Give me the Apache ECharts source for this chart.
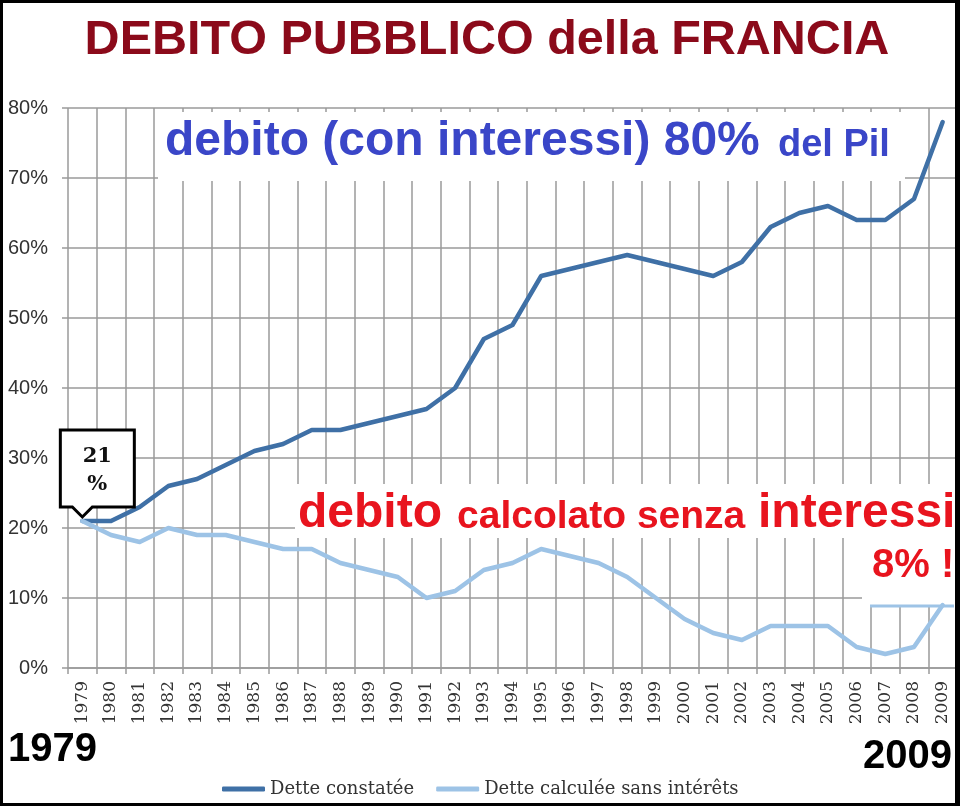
<!DOCTYPE html>
<html>
<head>
<meta charset="utf-8">
<style>
html,body{margin:0;padding:0;background:#fff;}
#c{width:960px;height:806px;}
</style>
<script src="https://cdn.jsdelivr.net/npm/echarts@6/dist/echarts.min.js"></script>
</head>
<body>
<div id="c"></div>
<script>
const years = ['1979','1980','1981','1982','1983','1984','1985','1986','1987','1988','1989','1990','1991','1992','1993','1994','1995','1996','1997','1998','1999','2000','2001','2002','2003','2004','2005','2006','2007','2008','2009'];
const detteConstatee = [21,21,23,26,27,29,31,32,34,34,35,36,37,40,47,49,56,57,58,59,58,57,56,58,63,65,66,64,64,67,78];
const detteSansInterets = [21,19,18,20,19,19,18,17,17,15,14,13,10,11,14,15,17,16,15,13,10,7,5,4,6,6,6,3,2,3,9];
const yTicks = [0,10,20,30,40,50,60,70,80];
const seriesNames = ['Dette constatée','Dette calculée sans intérêts'];

const chart = echarts.init(document.getElementById('c'), null, {renderer:'canvas'});
const grey = '#9a9a9a';
const SANS = 'Liberation Sans, Arial, sans-serif';
const SERIF = 'DejaVu Serif, serif';

function txt(text, x, y, size, color, opts){
  return Object.assign({
    type:'text', z:5,
    style:Object.assign({text:text, x:x, y:y, font:'bold '+size+'px '+SANS, fill:color, align:'left', verticalAlign:'middle'}, (opts||{}).style||{})
  }, (opts||{}).el||{});
}

const option = {
  animation:false,
  backgroundColor:'#fff',
  grid:{left:68, right:3, top:108, height:560, containLabel:false},
  xAxis:{
    type:'category', data:years, boundaryGap:true,
    axisLine:{show:true, lineStyle:{color:grey, width:1.5}},
    axisTick:{show:true, interval:0, length:6, lineStyle:{color:grey, width:1.5}},
    splitLine:{show:true, interval:0, lineStyle:{color:grey, width:1.5}},
    axisLabel:{interval:0, rotate:90, margin:13, fontFamily:SERIF, fontSize:17, color:'#333'}
  },
  yAxis:{
    type:'value', min:0, max:80, interval:10,
    axisLine:{show:false},
    axisTick:{show:true, length:6, lineStyle:{color:grey, width:1.5}},
    splitLine:{show:true, lineStyle:{color:grey, width:1.5}},
    axisLabel:{margin:20, fontFamily:SANS, fontSize:20, color:'#333',
      formatter:function(v){ return yTicks.indexOf(v)>=0 ? v+'%' : ''; }}
  },
  legend:{
    data:seriesNames, left:217, top:775, itemWidth:43, itemHeight:5, itemGap:22,
    icon:'roundRect',
    textStyle:{fontFamily:SERIF, fontSize:18, color:'#333'}
  },
  series:[
    {name:seriesNames[0], type:'line', data:detteConstatee, symbol:'none', smooth:false,
     lineStyle:{color:'#3f70a6', width:4.5, join:'round', cap:'round'}, itemStyle:{color:'#3f70a6'}, z:3},
    {name:seriesNames[1], type:'line', data:detteSansInterets, symbol:'none', smooth:false,
     lineStyle:{color:'#9dc3e6', width:4.5, join:'round', cap:'round'}, itemStyle:{color:'#9dc3e6'}, z:3}
  ]
};
chart.setOption(option);

// annotations
const p = chart.convertToPixel({xAxisIndex:0, yAxisIndex:0}, [0, detteConstatee[0]]);
const px = p[0], py = p[1];
const bl = px-22, br = px+52, bt = py-91, bb = py-14;

chart.setOption({
  graphic:[
    // white boxes behind annotation texts
    {type:'rect', z:1, shape:{x:158, y:112, width:747, height:69}, style:{fill:'#fff'}},
    {type:'rect', z:1, shape:{x:295, y:484, width:662, height:54}, style:{fill:'#fff'}},
    {type:'rect', z:1, shape:{x:862, y:538, width:95, height:68}, style:{fill:'#fff'}},
    {type:'line', z:1, shape:{x1:870, y1:606, x2:954, y2:606}, style:{stroke:'#9dc3e6', lineWidth:3}},
    // title
    txt('DEBITO PUBBLICO della FRANCIA', 487, 41, 48.5, '#8b0a1a', {style:{align:'center'}}),
    // blue annotation
    txt('debito (con interessi) 80%', 165, 142, 48, '#3a46c8'),
    txt('del Pil', 778, 146, 38, '#3a46c8'),
    // red annotation
    txt('debito', 298, 514, 48, '#e8141e'),
    txt('calcolato senza', 457, 517, 39, '#e8141e'),
    txt('interessi', 758, 514, 48, '#e8141e'),
    txt('8% !', 872, 566, 40, '#e8141e'),
    // year labels
    txt('1979', 8, 750, 40, '#000'),
    txt('2009', 952, 757, 40, '#000', {style:{align:'right'}}),
    // callout
    {type:'polygon', z:6, shape:{points:[[bl,bt],[br,bt],[br,bb],[px+10,bb],[px,py-4],[px-10,bb],[bl,bb]]},
      style:{fill:'#fff', stroke:'#000', lineWidth:3, lineJoin:'miter'}},
    {type:'text', z:7, style:{text:'21', x:px+15, y:py-64, font:'bold 21px '+SERIF, fill:'#111', align:'center', verticalAlign:'middle'}},
    {type:'text', z:7, style:{text:'%', x:px+15, y:py-36, font:'bold 21px '+SERIF, fill:'#111', align:'center', verticalAlign:'middle'}},
    // frame
    {type:'rect', z:10, shape:{x:1.5, y:1.5, width:956, height:803}, style:{fill:null, stroke:'#000', lineWidth:3}},
    {type:'rect', z:10, shape:{x:955, y:0, width:5, height:806}, style:{fill:'#000'}}
  ]
});
</script>
</body>
</html>
